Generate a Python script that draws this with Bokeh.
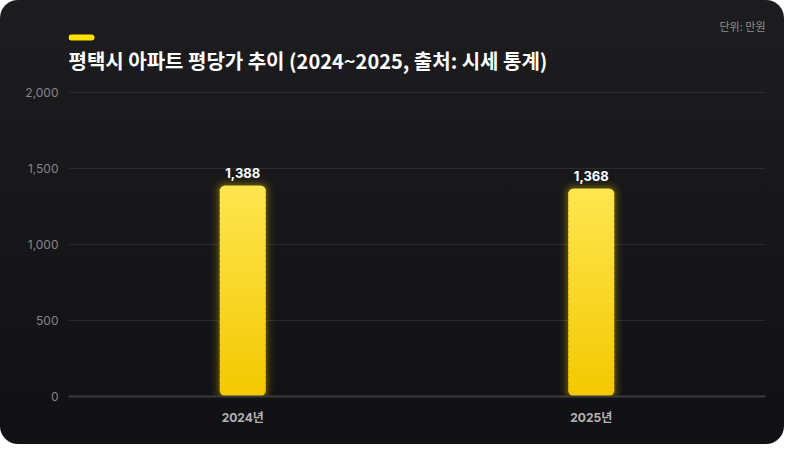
from bokeh.plotting import figure
from bokeh.models import Range1d, Label, BoxAnnotation, ColumnDataSource, FixedTicker, NumeralTickFormatter
from bokeh.core.properties import value
from bokeh.embed import file_html
from bokeh.resources import INLINE

# ---- data ----
years = ["2024년", "2025년"]
prices = [1388, 1368]
price_labels = ["1,388", "1,368"]
y_ticks = [0, 500, 1000, 1500, 2000]
title_text = "평택시 아파트 평당가 추이 (2024~2025, 출처: 시세 통계)"
unit_text = "단위: 만원"

W, H = 784, 444
FRAME_TOP_PX = 396      # frame spans from figure top to the zero line
AXIS_PX = 304           # pixels between 0 and 2000
FRAME_W = 697
Y_END = 2000 * FRAME_TOP_PX / AXIS_PX
KFONT = "Inter, 'Noto Sans CJK KR'"

p = figure(width=W, height=H, x_range=years, y_range=Range1d(0, Y_END),
           output_backend="svg", toolbar_location=None,
           min_border_left=68, min_border_right=19, min_border_top=0, min_border_bottom=48)
p.styles = {"background": "linear-gradient(180deg, #1d1d1f 0%, #111113 100%)",
            "border-radius": "18px", "overflow": "hidden"}
p.background_fill_alpha = 0
p.border_fill_alpha = 0
p.outline_line_color = None

# grid / axes
p.xgrid.grid_line_color = None
p.ygrid.grid_line_color = "#2b2b2e"
p.ygrid.grid_line_width = 1
p.yaxis.ticker = FixedTicker(ticks=y_ticks)
p.yaxis.formatter = NumeralTickFormatter(format="0,0")
p.yaxis.axis_line_color = None
p.yaxis.major_tick_line_color = None
p.yaxis.major_tick_out = 0
p.yaxis.minor_tick_line_color = None
p.yaxis.major_label_text_color = "#85858a"
p.yaxis.major_label_text_font = KFONT
p.yaxis.major_label_text_font_size = "12px"
p.yaxis.major_label_standoff = 10

p.xaxis.axis_line_color = "#3a3a3d"
p.xaxis.axis_line_width = 2
p.xaxis.major_tick_line_color = None
p.xaxis.major_tick_out = 0
p.xaxis.minor_tick_line_color = None
p.xaxis.major_label_text_color = "#b4b4b8"
p.xaxis.major_label_text_font = KFONT
p.xaxis.major_label_text_font_style = "bold"
p.xaxis.major_label_text_font_size = "12px"
p.xaxis.major_label_standoff = 13

BAR_W = 0.132

# glow
src = ColumnDataSource(dict(x=years, top=prices, lab=price_labels))
for lw, a in [(16, 0.04), (11, 0.05), (7, 0.07), (4, 0.09)]:
    p.vbar(x="x", top="top", bottom=0, width=BAR_W, source=src,
           fill_alpha=0, line_color="#FFD700", line_alpha=a, line_width=lw,
           line_join="round", border_radius=6)

# gradient bar via slices
def mix(c1, c2, t):
    a = [int(c1[i:i + 2], 16) for i in (1, 3, 5)]
    b = [int(c2[i:i + 2], 16) for i in (1, 3, 5)]
    return "#%02x%02x%02x" % tuple(round(a[k] + (b[k] - a[k]) * t) for k in range(3))

TOP_C, BOT_C = "#FFE650", "#F2C800"
N = 40
for yr, v in zip(years, prices):
    for i in range(N):
        bot = v * i / N
        top = v * (i + 1) / N + (0 if i == N - 1 else v / N * 0.3)
        if i == 0:
            br = (0, 0, 6, 6)
        elif i == N - 1:
            br = (6, 6, 0, 0)
        else:
            br = 0
        p.vbar(x=[yr], bottom=[bot], top=[top], width=BAR_W,
               fill_color=mix(BOT_C, TOP_C, (i + 0.5) / N), line_color=None, border_radius=br)

# value labels
p.text(x="x", y="top", text="lab", source=src, text_align="center", text_baseline="bottom",
       y_offset=-8, text_color="#ffffff", text_font=value(KFONT), text_font_style="bold",
       text_font_size="13px")

# header (screen units measured from the frame's bottom-left)
p.add_layout(BoxAnnotation(left=0, right=26, bottom=FRAME_TOP_PX - 40, top=FRAME_TOP_PX - 34,
                           left_units="screen", right_units="screen",
                           bottom_units="screen", top_units="screen",
                           fill_color="#FFE000", fill_alpha=1, line_color=None,
                           border_radius=3))
p.add_layout(Label(x=0, y=FRAME_TOP_PX - 60, x_units="screen", y_units="screen",
                   text=title_text, text_font="Noto Sans CJK KR", text_font_style="bold",
                   text_font_size="20px", text_color="#ffffff", text_baseline="middle"))
p.add_layout(Label(x=FRAME_W, y=FRAME_TOP_PX - 25, x_units="screen", y_units="screen",
                   text=unit_text, text_font="Noto Sans CJK KR",
                   text_font_size="11px", text_color="#8e8e93", text_align="right",
                   text_baseline="middle"))

open("out.html", "w").write(file_html(p, INLINE))
